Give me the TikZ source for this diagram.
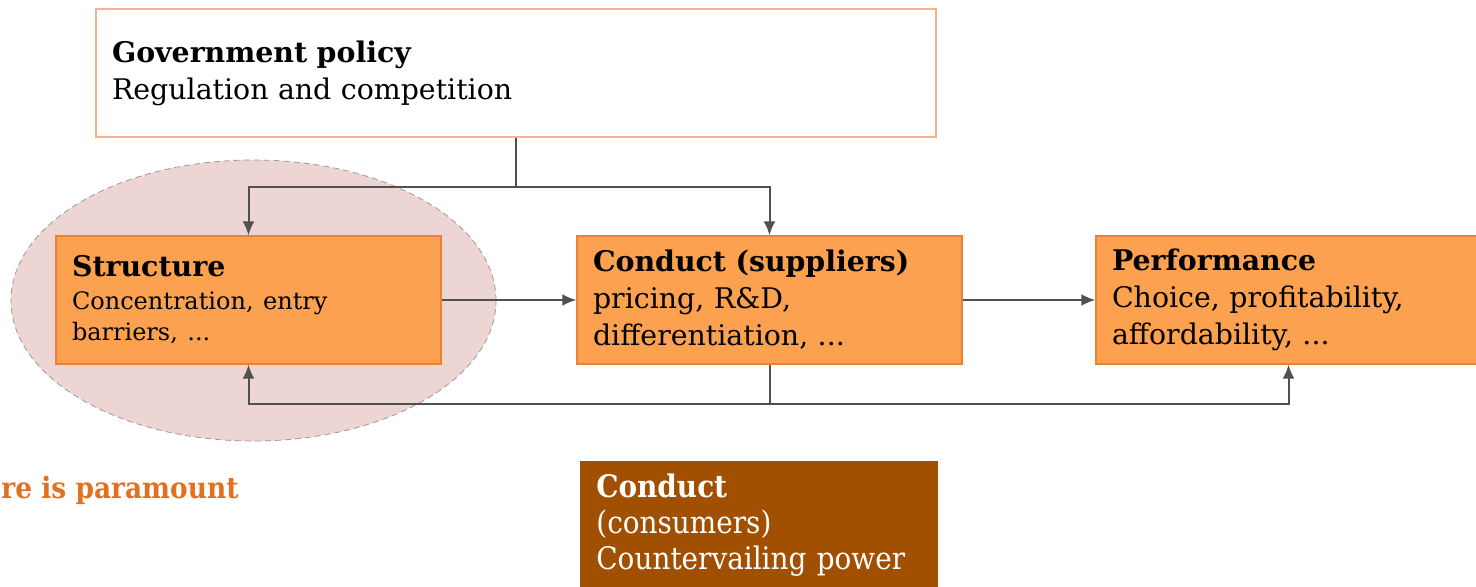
\documentclass[tikz,border=0pt]{standalone}
\usepackage{fontspec}
\setmainfont{DejaVu Serif}
\newfontfamily\condfont{DejaVu Serif Condensed}
\usepackage{tikz}
\usetikzlibrary{shapes.geometric, arrows.meta, positioning, calc}

\definecolor{boxorange}{RGB}{251,161,80}
\definecolor{edgeorange}{RGB}{236,128,52}
\definecolor{paleorange}{RGB}{245,180,140}
\definecolor{ovalpink}{RGB}{237,213,211}
\definecolor{ovaledge}{RGB}{165,150,150}
\definecolor{brownbox}{RGB}{161,79,0}
\definecolor{linegray}{RGB}{80,80,80}
\definecolor{notecolor}{RGB}{226,112,30}

\begin{document}
\begin{tikzpicture}[x=0.5pt, y=-0.5pt,
  stage/.style={draw=edgeorange, fill=boxorange, line width=0.7pt, minimum width=192.5pt, minimum height=64pt, text width=176.5pt, inner xsep=8pt, align=left, font=\fontsize{14.2}{18.5}\selectfont},
  flow/.style={draw=linegray, line width=1pt, -{Latex[length=7pt,width=6pt]}},
  link/.style={draw=linegray, line width=1pt}]
\useasboundingbox (0,0) rectangle (1476,587);
\clip (0,0) rectangle (1476,587);

% Focus oval
\node[ellipse, draw=ovaledge, densely dashed, line width=0.4pt, fill=ovalpink, minimum width=242.5pt, minimum height=140.5pt, inner sep=0pt] (focus) at (253.5,300.5) {};

% Government policy
\node[draw=paleorange, fill=white, line width=0.8pt, minimum width=420pt, minimum height=64pt, text width=404pt, inner xsep=8pt, align=left, font=\fontsize{14.2}{18.5}\selectfont] (gov) at (516,73) {\textbf{Government policy}\\Regulation and competition};

% Stages
\node[stage] (struct) at (248.5,300) {\textbf{Structure}\\[1.5pt]\fontsize{12}{15}\selectfont Concentration, entry\\[-3pt]barriers, ...};
\node[stage] (cond) at (769.5,300) {\textbf{Conduct (suppliers)}\\pricing, R\&D,\\differentiation, ...};
\node[stage] (perf) at (1288.5,300) {\textbf{Performance}\\Choice, profitability,\\affordability, ...};

% Consumers
\node[anchor=north west, fill=brownbox, text=white, minimum width=179pt, minimum height=64pt, text width=163pt, inner xsep=8pt, align=left, font=\condfont\fontsize{15.5}{18}\selectfont] (cons) at (580,461) {\textbf{Conduct}\\(consumers)\\Countervailing power};

% Note
\node[anchor=base east, inner sep=0pt, text=notecolor, font=\condfont\bfseries\fontsize{14.7}{16}\selectfont] (note) at (239,498) {re is paramount};

% Connectors
\coordinate (split) at ($(gov.south)+(0,49)$);
\draw[link] (gov.south) -- (split);
\draw[flow] (split) -| (struct.north);
\draw[flow] (split) -| (cond.north);
\draw[flow] (struct.east) -- (cond.west);
\draw[flow] (cond.east) -- (perf.west);
\coordinate (back) at ($(cond.south)+(0,39)$);
\draw[link] (cond.south) -- (back);
\draw[flow] (back) -| (struct.south);
\draw[flow] (back) -| (perf.south);
\end{tikzpicture}
\end{document}
